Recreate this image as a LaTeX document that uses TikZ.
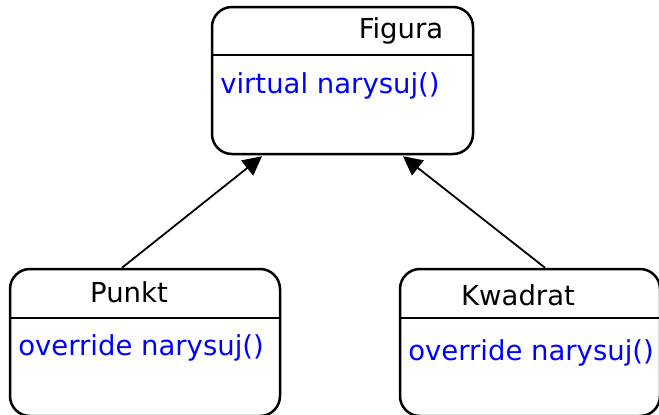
\documentclass[tikz,border=0pt]{standalone}
\usepackage{fontspec}
\setmainfont{DejaVu Sans}
\usetikzlibrary{arrows.meta,positioning}

\begin{document}
\begin{tikzpicture}[x=1pt, y=1pt, line width=2.5pt,
	classbox/.style={draw, rounded corners=20pt, inner sep=0pt},
	title/.style={font=\fontsize{27.5}{33}\selectfont, inner sep=0pt},
	method/.style={font=\fontsize{27.5}{33}\selectfont, text=blue, inner sep=0pt, anchor=west},
	inherit/.style={-{Triangle[length=19pt, width=19pt]}, line width=1.8pt}]
	\useasboundingbox (0,0) rectangle (659,-415);

	% Class boxes {figura, punkt, kwadrat}
	\node [classbox, minimum width=261pt, minimum height=147pt] (figura)  at (342.5,-80.5) {};
	\node [classbox, minimum width=270pt, minimum height=147pt] (punkt)   at (145,-342.5)  {};
	\node [classbox, minimum width=260pt, minimum height=147pt] (kwadrat) at (530,-342.5)  {};

	% Dividers
	\draw ([yshift=-49pt]figura.north west)  -- ([yshift=-49pt]figura.north east);
	\draw ([yshift=-50pt]punkt.north west)   -- ([yshift=-50pt]punkt.north east);
	\draw ([yshift=-50pt]kwadrat.north west) -- ([yshift=-50pt]kwadrat.north east);

	% Names
	\node [title] (figuraname)  at (401,-31)  {Figura};
	\node [title] (punktname)   at (129,-292) {Punkt};
	\node [title] (kwadratname) at (518,-295) {Kwadrat};

	% Methods
	\node [method] (figuradraw)  at (219,-86)  {virtual narysuj()};
	\node [method] (punktdraw)   at (17,-348)  {override narysuj()};
	\node [method] (kwadratdraw) at (407,-353) {override narysuj()};

	% Inheritance arrows
	\draw [inherit] ([xshift=-23pt]punkt.north)  -- ([xshift=-80.5pt, yshift=-1pt]figura.south);
	\draw [inherit] ([xshift=15pt]kwadrat.north) -- ([xshift=60.5pt, yshift=-1pt]figura.south);
\end{tikzpicture}
\end{document}
